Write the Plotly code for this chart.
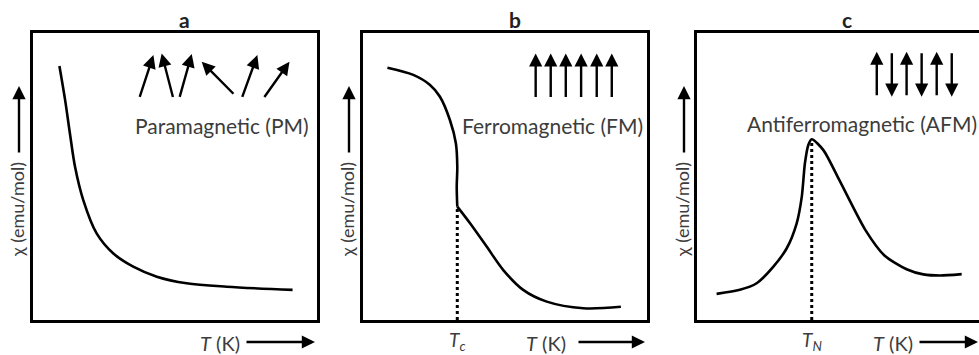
import plotly.graph_objects as go

# ---------------- data (arbitrary units, 0-100 inside each box) ----------------
pm_T = [9.3, 11.3, 13.0, 14.8, 17.7, 22.4, 28.3, 35.3, 43.6, 54.1, 68.2, 91.4]
pm_chi = [88.5, 76.7, 65.0, 53.4, 41.8, 30.2, 23.2, 18.6, 15.1, 12.8, 11.6, 10.5]

fm_T_low = [8.6, 17.7, 23.6, 27.1, 30.6, 32.7, 33.2, 33.0, 33.2]
fm_chi_low = [87.9, 85.4, 81.9, 77.8, 69.7, 61.6, 53.4, 46.4, 39.5]
fm_T_high = [33.2, 37.7, 43.6, 49.4, 56.4, 64.7, 77.6, 90.8]
fm_chi_high = [39.5, 33.7, 25.5, 17.4, 10.5, 6.4, 4.1, 4.6]
Tc = 33.2
chi_Tc = 39.5

afm_T = [6.9, 15.1, 21.0, 26.9, 31.6, 35.1, 36.9, 38.0, 39.2, 40.4,
         44.5, 50.4, 59.2, 66.0, 73.8, 79.7, 85.6, 93.2]
afm_chi = [9.1, 10.5, 12.8, 18.6, 25.0, 33.7, 43.0, 54.6, 61.0, 63.0,
           59.2, 48.2, 31.5, 22.5, 17.7, 15.9, 15.5, 16.0]
TN = 40.4
chi_TN = 63.0

panel_titles = ["a", "b", "c"]
phase_labels = ["Paramagnetic (PM)", "Ferromagnetic (FM)", "Antiferromagnetic (AFM)"]
y_label = "χ (emu/mol)"
x_label = "<i>T</i> (K)"

# spin arrows: (tail_x, tail_y, tip_x, tip_y) in panel units
pm_spins = [(37.4, 77.2, 42.4, 92.3), (49.4, 77.2, 45.3, 92.9), (51.5, 77.2, 55.9, 92.7),
            (71.1, 78.3, 59.4, 90.0), (73.5, 77.2, 79.0, 92.3), (81.1, 77.2, 90.3, 90.0)]
fm_spin_x = [60.8, 66.1, 71.4, 76.8, 82.3, 87.6]
afm_spin_x = [63.3, 68.6, 73.8, 79.1, 84.4, 89.7]
afm_spin_dir = [1, -1, 1, -1, 1, -1]

# ---------------- layout geometry (pixels) ----------------
W, H = 979, 355
def px(x):
    return x / W
def py(y):
    return 1 - y / H

box_left = [33, 363, 697]
box_w = 284
box_top, box_bot = 33, 320

fig = go.Figure()
TXT = "#3c3c3c"
FONT = "Lato"

axes = ["", "2", "3"]
for i, a in enumerate(axes):
    L = box_left[i]
    R = min(L + box_w, W)
    xr = [0, 100 * (R - L) / box_w]
    fig.update_layout(**{
        f"xaxis{a}": dict(domain=[px(L), px(R)], range=xr, showline=True, mirror=True,
                          linewidth=3, linecolor="black", showgrid=False, zeroline=False,
                          showticklabels=False, ticks="", anchor=f"y{a}", fixedrange=True),
        f"yaxis{a}": dict(domain=[py(box_bot), py(box_top)], range=[0, 100], showline=True,
                          mirror=(i < 2), linewidth=3, linecolor="black", showgrid=False,
                          zeroline=False, showticklabels=False, ticks="", anchor=f"x{a}",
                          fixedrange=True),
    })

line = dict(color="black", width=2.6, shape="spline", smoothing=0.9)
fig.add_trace(go.Scatter(x=pm_T, y=pm_chi, mode="lines", line=line, xaxis="x", yaxis="y"))
fig.add_trace(go.Scatter(x=fm_T_low, y=fm_chi_low, mode="lines", line=line, xaxis="x2", yaxis="y2"))
fig.add_trace(go.Scatter(x=fm_T_high, y=fm_chi_high, mode="lines", line=line, xaxis="x2", yaxis="y2"))
fig.add_trace(go.Scatter(x=[Tc, Tc], y=[0, chi_Tc], mode="lines",
                         line=dict(color="black", width=3, dash="dot"), xaxis="x2", yaxis="y2"))
fig.add_trace(go.Scatter(x=afm_T, y=afm_chi, mode="lines",
                         line=dict(color="black", width=2.6, shape="spline", smoothing=0.7),
                         xaxis="x3", yaxis="y3"))
fig.add_trace(go.Scatter(x=[TN, TN], y=[0, chi_TN], mode="lines",
                         line=dict(color="black", width=3, dash="dot"), xaxis="x3", yaxis="y3"))

ann = []
def arrow(xref, yref, tx, ty, hx, hy, w=2.4, size=1.1):
    ann.append(dict(xref=xref, yref=yref, axref=xref, ayref=yref, x=hx, y=hy, ax=tx, ay=ty,
                    text="", showarrow=True, arrowhead=2, arrowsize=size, arrowwidth=w,
                    arrowcolor="black", standoff=0, startstandoff=0))

for (tx, ty, hx, hy) in pm_spins:
    arrow("x", "y", tx, ty, hx, hy)
for x in fm_spin_x:
    arrow("x2", "y2", x, 77.2, x, 92.9)
for x, d in zip(afm_spin_x, afm_spin_dir):
    if d > 0:
        arrow("x3", "y3", x, 77.8, x, 93.5)
    else:
        arrow("x3", "y3", x, 93.5, x, 77.8)

# phase labels
label_pos = [(221.7, 126), (552.7, 126), (862, 124)]
for (lx, ly), t in zip(label_pos, phase_labels):
    ann.append(dict(xref="paper", yref="paper", x=px(lx), y=py(ly), text=t, showarrow=False,
                    xanchor="center", yanchor="middle", font=dict(family=FONT, size=21, color=TXT)))

# titles
title_x = [184, 515, 847]
for tx, t in zip(title_x, panel_titles):
    ann.append(dict(xref="paper", yref="paper", x=px(tx), y=py(19), text=f"<b>{t}</b>", showarrow=False,
                    xanchor="center", yanchor="middle", font=dict(family=FONT, size=21, color="#222222")))

# y labels with up arrows
ylab_x = [17, 347, 682]
for yx in ylab_x:
    ann.append(dict(xref="paper", yref="paper", x=px(yx), y=py(210), text=y_label, textangle=-90,
                    showarrow=False, xanchor="center", yanchor="middle",
                    font=dict(family=FONT, size=18, color=TXT)))
    ann.append(dict(xref="paper", yref="paper", x=px(yx + 2), y=py(86), ax=0, ay=68, text="",
                    showarrow=True, arrowhead=2, arrowsize=1.1, arrowwidth=2.4, arrowcolor="black",
                    standoff=0))

# x labels with right arrows
xlab = [(220, 245, 315), (546, 577, 645), (893, 918, 985)]
for cx, a0, a1 in xlab:
    ann.append(dict(xref="paper", yref="paper", x=px(cx), y=py(343), text=x_label, showarrow=False,
                    xanchor="center", yanchor="middle", font=dict(family=FONT, size=20, color=TXT)))
    ann.append(dict(xref="paper", yref="paper", x=px(a1), y=py(342), ax=-(a1 - a0), ay=0, text="",
                    showarrow=True, arrowhead=2, arrowsize=1.1, arrowwidth=2.4, arrowcolor="black",
                    standoff=0))

# Tc, TN labels
ann.append(dict(xref="x2", yref="paper", x=Tc, y=py(341), text="<i>T</i><sub><i>c</i></sub>",
                showarrow=False, xanchor="center", yanchor="middle", font=dict(family=FONT, size=19, color=TXT)))
ann.append(dict(xref="x3", yref="paper", x=TN, y=py(341), text="<i>T</i><sub><i>N</i></sub>",
                showarrow=False, xanchor="center", yanchor="middle", font=dict(family=FONT, size=19, color=TXT)))

fig.update_layout(width=W, height=H, margin=dict(l=0, r=0, t=0, b=0), showlegend=False,
                  paper_bgcolor="white", plot_bgcolor="white", annotations=ann)

fig.write_html("out.html", config={"displayModeBar": False})
